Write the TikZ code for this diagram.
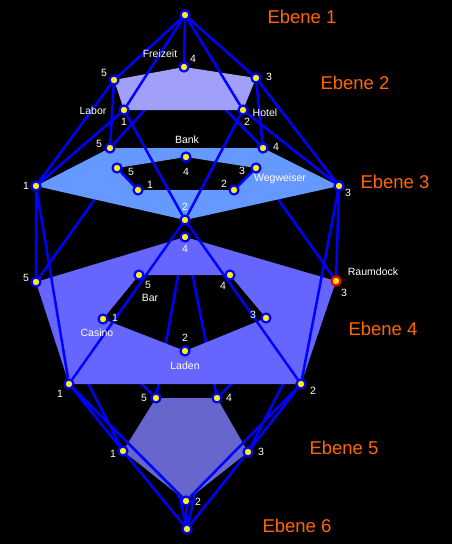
\documentclass[tikz,border=0pt]{standalone}
\usepackage{fontspec}
\setmainfont{Liberation Sans}
\usepackage{xcolor}
\usetikzlibrary{backgrounds}

\definecolor{ebzwei}{RGB}{160,160,250}
\definecolor{ebdrei}{RGB}{102,153,255}
\definecolor{ebvier}{RGB}{102,102,255}
\definecolor{ebfuenf}{RGB}{102,102,204}
\definecolor{ebtext}{RGB}{255,102,0}

\tikzset{
	raum/.style={circle,draw=blue,fill=yellow,line width=2.2pt,inner sep=0pt,minimum size=9pt},
	dock/.style={raum,draw=red},
	gang/.style={draw=blue,line width=2.5pt},
	nr/.style={text=white,inner sep=0pt,font=\fontsize{10.5}{12}\selectfont},
	ebene/.style={text=ebtext,inner sep=0pt,font=\fontsize{18.5}{22}\selectfont},
}

\begin{document}
\begin{tikzpicture}[x=1pt,y=-1pt]
	\useasboundingbox (0,0) rectangle (452,544);

	% Ebene 1 and 2
	\node[raum] (e1) at (185,15) {};
	\node[raum] (e2a) at (124,110) {};
	\node[raum] (e2b) at (243,110) {};
	\node[raum] (e2c) at (256,78) {};
	\node[raum] (e2d) at (184,67) {};
	\node[raum] (e2e) at (114,80) {};

	% Ebene 3, outer ring and rooms
	\node[raum] (e3a) at (36,186) {};
	\node[raum] (e3b) at (185,220) {};
	\node[raum] (e3c) at (339,186) {};
	\node[raum] (e3d) at (263,148) {};
	\node[raum] (e3e) at (110,148) {};
	\node[raum] (r3a) at (138,190) {};
	\node[raum] (r3b) at (234,190) {};
	\node[raum] (r3c) at (256,168) {};
	\node[raum] (r3d) at (186,157) {};
	\node[raum] (r3e) at (117,168) {};

	% Ebene 4, outer ring and rooms
	\node[raum] (e4a) at (69,384) {};
	\node[raum] (e4b) at (301,384) {};
	\node[dock] (e4c) at (336,281) {};
	\node[raum] (e4d) at (185,237) {};
	\node[raum] (e4e) at (36,282) {};
	\node[raum] (r4a) at (103,319) {};
	\node[raum] (r4b) at (185,351) {};
	\node[raum] (r4c) at (266,318) {};
	\node[raum] (r4d) at (230,275) {};
	\node[raum] (r4e) at (139,275) {};

	% Ebene 5 and 6
	\node[raum] (e5a) at (123,451) {};
	\node[raum] (e5b) at (186,501) {};
	\node[raum] (e5c) at (248,452) {};
	\node[raum] (e5d) at (217,398) {};
	\node[raum] (e5e) at (156,398) {};
	\node[raum] (e6) at (187,529) {};

	% Numbers and names
	\node[nr] (t-frei) at (160,54) {Freizeit};
	\node[nr] (n-e2d) at (193,59) {4};
	\node[nr] (n-e2e) at (104,73) {5};
	\node[nr] (n-e2c) at (269,77) {3};
	\node[nr] (t-labor) at (93,111) {Labor};
	\node[nr] (n-e2a) at (124,122) {1};
	\node[nr] (t-hotel) at (265,113) {Hotel};
	\node[nr] (n-e2b) at (247,122) {2};

	\node[nr] (t-bank) at (187,140) {Bank};
	\node[nr] (n-r3d) at (186,172) {4};
	\node[nr] (n-e3e) at (99,144) {5};
	\node[nr] (n-e3a) at (26,186) {1};
	\node[nr] (n-r3e) at (131,172) {5};
	\node[nr] (n-r3a) at (150,185) {1};
	\node[nr] (n-r3b) at (224,184) {2};
	\node[nr] (n-r3c) at (242,171) {3};
	\node[nr] (t-weg) at (280,179) {Wegweiser};
	\node[nr] (n-e3d) at (276,147) {4};
	\node[nr] (n-e3c) at (348,193) {3};
	\node[nr] (n-e3b) at (185,207) {2};

	\node[nr] (n-e4d) at (185,249) {4};
	\node[nr] (n-e4e) at (26,278) {5};
	\node[nr] (n-r4e) at (148,285) {5};
	\node[nr] (t-bar) at (150,298) {Bar};
	\node[nr] (n-r4d) at (223,286) {4};
	\node[nr] (n-r4c) at (253,315) {3};
	\node[nr] (n-r4a) at (115,318) {1};
	\node[nr] (t-casino) at (97,333) {Casino};
	\node[nr] (n-r4b) at (185,338) {2};
	\node[nr] (t-laden) at (185,366) {Laden};
	\node[nr] (t-dock) at (373,272) {Raumdock};
	\node[nr] (n-e4c) at (344,293) {3};
	\node[nr] (n-e4b) at (313,391) {2};
	\node[nr] (n-e4a) at (60,394) {1};

	\node[nr] (n-e5e) at (144,398) {5};
	\node[nr] (n-e5d) at (229,398) {4};
	\node[nr] (n-e5a) at (113,454) {1};
	\node[nr] (n-e5c) at (261,452) {3};
	\node[nr] (n-e5b) at (198,502) {2};

	% Level titles
	\node[ebene] (eb1) at (302,17) {Ebene 1};
	\node[ebene] (eb2) at (355,83) {Ebene 2};
	\node[ebene] (eb3) at (395,182) {Ebene 3};
	\node[ebene] (eb4) at (383,329) {Ebene 4};
	\node[ebene] (eb5) at (344,448) {Ebene 5};
	\node[ebene] (eb6) at (297,526) {Ebene 6};

	% Floors and corridors, bottom level first
	\begin{pgfonlayer}{background}
		\fill[black] (0,0) rectangle (452,544);

		\draw[gang] (e5a) -- (e6) (e5b) -- (e6) (e5c) -- (e6) (e5d) -- (e6) (e5e) -- (e6);
		\fill[ebfuenf] (e5a.center) -- (e5b.center) -- (e5c.center) -- (e5d.center) -- (e5e.center) -- cycle;

		\draw[gang] (e4a) -- (e5a) (e4a) -- (e5b) (e4b) -- (e5b) (e4b) -- (e5c)
			(e4c) -- (e5c) (e4c) -- (e5d) (e4d) -- (e5d) (e4d) -- (e5e)
			(e4e) -- (e5e) (e4e) -- (e5a);
		\fill[ebvier,even odd rule] (e4a.center) -- (e4b.center) -- (e4c.center) -- (e4d.center) -- (e4e.center) -- cycle
			(r4a.center) -- (r4b.center) -- (r4c.center) -- (r4d.center) -- (r4e.center) -- cycle;

		\draw[gang] (e3a) -- (e4e) (e3a) -- (e4a) (e3b) -- (e4a) (e3b) -- (e4b)
			(e3c) -- (e4b) (e3c) -- (e4c) (r3c) -- (e4c) (r3e) -- (e4e);
		\fill[ebdrei,even odd rule] (e3a.center) -- (e3b.center) -- (e3c.center) -- (e3d.center) -- (e3e.center) -- cycle
			(r3a.center) -- (r3b.center) -- (r3c.center) -- (r3d.center) -- (r3e.center) -- cycle;
		\draw[gang] (r3e) -- (r3a) (r3b) -- (r3c);

		\draw[gang] (e2a) -- (e3a) (e2a) -- (e3b) (e2b) -- (e3b) (e2b) -- (e3c)
			(e2c) -- (e3c) (e2c) -- (e3d) (e2d) -- (e3d) (e2d) -- (e3e)
			(e2e) -- (e3e) (e2e) -- (e3a);
		\fill[ebzwei] (e2a.center) -- (e2b.center) -- (e2c.center) -- (e2d.center) -- (e2e.center) -- cycle;

		\draw[gang] (e1) -- (e2a) (e1) -- (e2b) (e1) -- (e2c) (e1) -- (e2d) (e1) -- (e2e);
	\end{pgfonlayer}
\end{tikzpicture}
\end{document}
